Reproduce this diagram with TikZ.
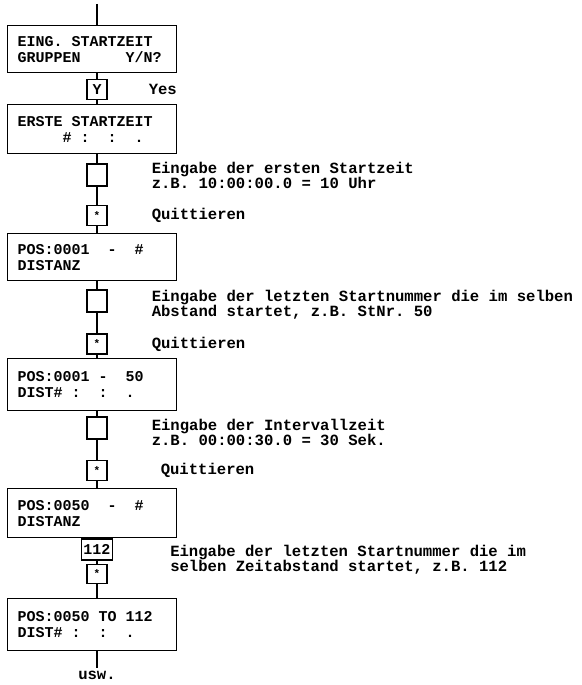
\documentclass[tikz,border=0pt]{standalone}
\usepackage{fontspec}
\setmonofont{Liberation Mono}
\usepackage{tikz}
\usetikzlibrary{positioning}
\newcommand{\fixspace}{\spaceskip=\fontcharwd\font`0\relax\xspaceskip=\spaceskip}
\newcommand{\scrfont}{\ttfamily\bfseries\fontsize{15}{16}\selectfont}
\newcommand{\notefont}{\ttfamily\bfseries\fontsize{15.6}{15}\selectfont}
\newcommand{\confirm}{\raisebox{-0.35ex}{\fontsize{11}{11}\selectfont *}}

\begin{document}
\begin{tikzpicture}[
x=1pt, y=-1pt,
wire/.style = {line width=1.1pt},
screen/.style = {draw, line width=1.2pt, fill=white, anchor=north west, minimum width=169pt,
  text width=149pt, inner xsep=10pt, align=left, font=\scrfont, execute at begin node=\fixspace},
key/.style = {draw, line width=1.1pt, fill=white, minimum width=20pt, minimum height=20pt,
  inner sep=2pt, font=\scrfont},
blank/.style = {key, minimum height=22pt},
note/.style = {anchor=west, align=left, inner xsep=0pt, font=\notefont, execute at begin node=\fixspace}
]
\useasboundingbox (0,0) rectangle (581,685);

% display screens
\node[screen, minimum height=47pt] (scr1) at (7,25) {EING. STARTZEIT\\GRUPPEN~~~~~Y/N?};
\node[screen, minimum height=49pt] (scr2) at (7,104) {ERSTE STARTZEIT\\\mbox{}~~~~~\#~:~~:~~.};
\node[screen, minimum height=47pt] (scr3) at (7,233) {POS:0001~~-~~\#\\DISTANZ};
\node[screen, minimum height=52pt] (scr4) at (7,358) {POS:0001~-~~50\\DIST\#~:~~:~~.};
\node[screen, minimum height=49pt] (scr5) at (7,488) {POS:0050~~-~~\#\\DISTANZ};
\node[screen, minimum height=52pt] (scr6) at (7,598) {POS:0050 TO 112\\DIST\#~:~~:~~.};

% keys on the spine
\coordinate (top) at (97,4);
\node[key] (kY) at (97,89.5) {Y};
\node[blank] (e1) at (97,175) {};
\node[key] (s1) at (97,215.5) {\confirm};
\node[blank] (e2) at (97,301) {};
\node[key] (s2) at (97,344) {\confirm};
\node[blank] (e3) at (97,428) {};
\node[key] (s3) at (97,470.5) {\confirm};
\node[key, minimum height=21pt] (k112) at (97,549.5) {112};
\node[key, minimum height=19pt] (s4) at (97,574) {\confirm};
\coordinate (bot) at (97,668);

% spine
\draw[wire] (top) -- (scr1.north -| top);
\foreach \a/\b in {scr1/kY, kY/scr2, scr2/e1, e1/s1, s1/scr3, scr3/e2, e2/s2, s2/scr4,
  scr4/e3, e3/s3, s3/scr5, scr5/k112, k112/s4, s4/scr6}
  \draw[wire] (\a.south -| top) -- (\b.north -| top);
\draw[wire] (scr6.south -| top) -- (bot);

% notes
\node[note, right=41pt of kY] (yes) {Yes};
\node[note, right=44pt of e1] (n1) {Eingabe der ersten Startzeit\\z.B. 10:00:00.0 = 10 Uhr};
\node[note, right=44pt of s1] (q1) {Quittieren};
\node[note, right=44pt of e2, yshift=-4pt] (n2) {Eingabe der letzten Startnummer die im selben\\Abstand startet, z.B. StNr. 50};
\node[note, right=44pt of s2] (q2) {Quittieren};
\node[note, right=44pt of e3, yshift=-4pt] (n3) {Eingabe der Intervallzeit\\z.B. 00:00:30.0 = 30 Sek.};
\node[note, right=53pt of s3] (q3) {Quittieren};
\node[note, right=57pt of k112, yshift=-10pt] (n4) {Eingabe der letzten Startnummer die im\\selben Zeitabstand startet, z.B. 112};
\node[font=\notefont, inner sep=0pt, below=3pt of bot] (usw) {usw.};
\end{tikzpicture}
\end{document}
